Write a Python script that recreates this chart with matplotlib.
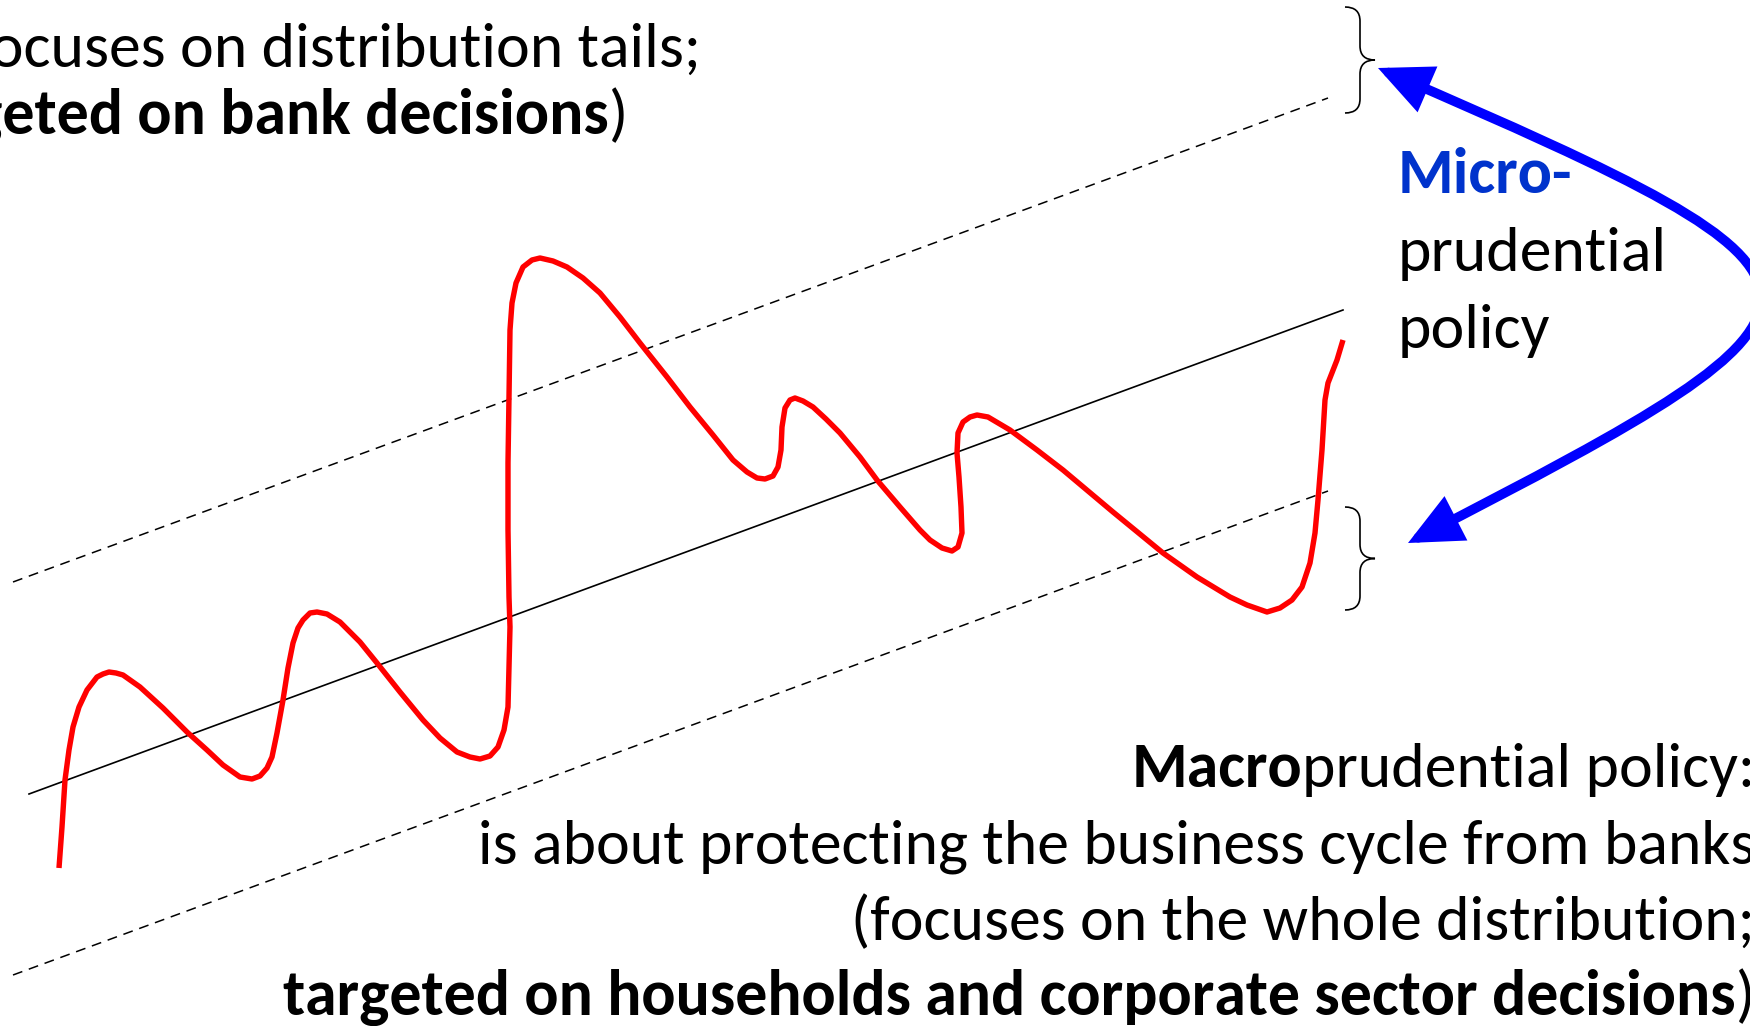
import matplotlib
matplotlib.use("Agg")
import matplotlib.pyplot as plt
from matplotlib import font_manager
from matplotlib.path import Path
from matplotlib.patches import PathPatch, FancyArrowPatch

# ==========================
# DATA (pixel-like units, y grows downward)
# ==========================

cycle_x = [59, 62, 65, 69, 73, 79, 87, 97, 103, 109, 116, 123, 140, 163,
           187, 207, 223, 240, 252, 260, 267, 272, 277, 283, 288, 293, 298,
           303, 310, 317, 327, 340, 360, 377, 400, 423, 440, 457, 470, 480,
           490, 498, 504, 508, 510, 509, 508, 508, 509, 510, 512, 516,
           523, 532, 540, 553, 567, 583, 600, 620, 640, 667, 690, 713, 733,
           747, 757, 765, 773, 778, 781, 782, 785, 790, 795, 803, 813, 826,
           840, 860, 877, 900, 920, 930, 942, 952, 958, 962, 961, 959, 957,
           958, 963, 970, 977, 988, 1010, 1037, 1063, 1113, 1163, 1197, 1230,
           1247, 1267, 1280, 1292, 1302, 1310, 1315, 1318, 1322, 1325, 1328,
           1337, 1343]
cycle_y = [868, 827, 780, 750, 727, 707, 690, 677, 674, 672, 673, 675, 687,
           708, 732, 750, 765, 777, 779, 776, 768, 757, 733, 700, 668, 643,
           628, 620, 613, 612, 614, 622, 642, 663, 692, 720, 738, 752, 757,
           759, 756, 747, 730, 707, 627, 597, 530, 463, 397, 330, 303,
           283, 267, 260, 258, 261, 267, 278, 293, 317, 343, 377, 407, 435,
           460, 472, 478, 479, 476, 467, 450, 427, 408, 400, 398, 401, 407,
           419, 433, 457, 480, 507, 530, 540, 548, 551, 547, 533, 507, 477,
           453, 433, 422, 417, 415, 417, 430, 450, 470, 512, 553, 577, 597,
           605, 612, 608, 600, 587, 563, 533, 500, 450, 400, 383, 360, 340]

trend_x = [29, 1343]
trend_y = [794, 310]
band_x = [13, 1328]
upper_band_y = [582, 98]
lower_band_y = [975, 491]

# braces: (top, bottom)
brace_spans = [(7, 113), (507, 610)]

micro_lines = ["Micro-", "prudential", "policy"]
top_lines = [
    [("(focuses on distribution tails;", False)],
    [("(", False), ("targeted on bank decisions", True), (")", False)],
]
macro_lines = [
    [("Macro", True), ("prudential policy:", False)],
    [("is about protecting the business cycle from banks", False)],
    [("(focuses on the whole distribution;", False)],
    [("targeted on households and corporate sector decisions", True), (")", False)],
]

# ==========================
# FIGURE
# ==========================

names = {f.name for f in font_manager.fontManager.ttflist}
plt.rcParams["font.family"] = ["Carlito"] if "Carlito" in names else ["Lato"]

fig = plt.figure(figsize=(17.5, 10.26), dpi=100)
ax = fig.add_axes([0, 0, 1, 1])
ax.set_xlim(0, 1750)
ax.set_ylim(1026, 0)
ax.axis("off")
renderer = fig.canvas.get_renderer()

ax.plot(trend_x, trend_y, color="black", lw=1.2)
ax.plot(band_x, upper_band_y, color="black", lw=1.1, linestyle=(0, (6.5, 4.5)))
ax.plot(band_x, lower_band_y, color="black", lw=1.1, linestyle=(0, (6.5, 4.5)))

ax.plot(cycle_x, cycle_y, color="#FF0000", lw=3.9,
        solid_joinstyle="round", solid_capstyle="butt")

# curly braces
for top, bot in brace_spans:
    x_end, x_tip = 1345, 1375
    xs = (x_end + x_tip) / 2
    mid = (top + bot) / 2
    r = 14
    verts = [(x_end, top), (xs, top), (xs, top + r), (xs, mid - r),
             (xs, mid), (x_tip, mid), (xs, mid), (xs, mid + r),
             (xs, bot - r), (xs, bot), (x_end, bot)]
    codes = [Path.MOVETO, Path.CURVE3, Path.CURVE3, Path.LINETO,
             Path.CURVE3, Path.CURVE3, Path.CURVE3, Path.CURVE3,
             Path.LINETO, Path.CURVE3, Path.CURVE3]
    ax.add_patch(PathPatch(Path(verts, codes), fill=False,
                           edgecolor="black", lw=1.2))

# blue double arrow
arrow_path = Path([(1378, 68), (1880, 285), (1880, 300), (1408, 543)],
                  [Path.MOVETO, Path.CURVE4, Path.CURVE4, Path.CURVE4])
ax.add_patch(FancyArrowPatch(
    path=arrow_path,
    arrowstyle="<|-|>,head_length=2.7,head_width=1.25",
    mutation_scale=10,
    lw=7,
    joinstyle="miter",
    color="#0000FF"
))

# font size fitted to the reference line width
probe = ax.text(0, 0, "is about protecting the business cycle from banks",
                fontsize=40)
fs = 40 * 1275 / probe.get_window_extent(renderer).width
probe.remove()


def draw_line(x_right, y, pieces, size, color="black"):
    x = x_right
    for s, bold in reversed(pieces):
        t = ax.text(x, y, s, ha="right", va="baseline", fontsize=size,
                    fontweight="bold" if bold else "normal", color=color)
        x -= t.get_window_extent(renderer).width


for pieces, y in zip(macro_lines, [787, 863, 940, 1015]):
    draw_line(1755, y, pieces, fs)

draw_line(701, 67, top_lines[0], fs)
draw_line(628, 134, top_lines[1], fs)

ax.text(1398, 193, micro_lines[0], fontsize=fs, fontweight="bold",
        color="#0033CC", va="baseline")
ax.text(1398, 271, micro_lines[1], fontsize=fs, va="baseline")
ax.text(1398, 348, micro_lines[2], fontsize=fs, va="baseline")

fig.savefig("out.png", dpi=100)
